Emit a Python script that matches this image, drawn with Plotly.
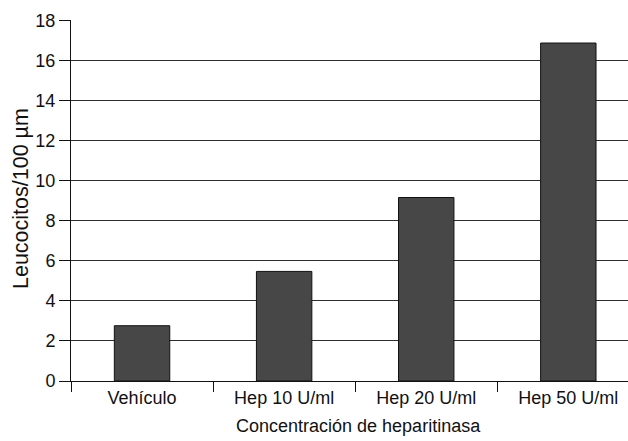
import plotly.graph_objects as go

categories = ["Vehículo", "Hep 10 U/ml", "Hep 20 U/ml", "Hep 50 U/ml"]
values = [2.76, 5.47, 9.16, 16.87]
y_ticks = [0, 2, 4, 6, 8, 10, 12, 14, 16, 18]

W, H = 628, 441
L, R, T, B = 71, 0, 20, 60

fig = go.Figure(go.Bar(
    x=categories, y=values, width=0.39,
    marker=dict(color="#474747", line=dict(color="#111111", width=1)),
))

font = "Liberation Sans, Arial, Helvetica, sans-serif"
fig.update_layout(
    width=W, height=H,
    margin=dict(l=L, r=R, t=T, b=B, autoexpand=False),
    paper_bgcolor="white", plot_bgcolor="white",
    font=dict(family=font, size=18, color="#111111"),
    showlegend=False,
    xaxis=dict(
        range=[-0.5, 3.42], tickson="boundaries", ticks="outside", ticklen=10,
        tickcolor="#111111", showline=True, linecolor="#111111", linewidth=1,
        showgrid=False, automargin=False, tickfont=dict(size=18),
    ),
    yaxis=dict(
        range=[0, 18.02], tickvals=y_ticks, ticks="outside", ticklen=11,
        tickcolor="#111111", showline=True, linecolor="#111111", linewidth=1,
        showgrid=True, gridcolor="#2e2e2e", gridwidth=1, zeroline=False,
        automargin=False, tickfont=dict(size=18),
    ),
    annotations=[
        dict(text="Concentración de heparitinasa", xref="paper", yref="paper",
             x=(358 - L) / (W - L - R), y=-(426 - (H - B)) / (H - T - B),
             showarrow=False, xanchor="center", yanchor="middle",
             font=dict(size=18)),
        dict(text="Leucocitos/100 µm", xref="paper", yref="paper",
             x=-(L - 21) / (W - L - R), y=((H - B) - 199) / (H - T - B),
             showarrow=False, xanchor="center", yanchor="middle",
             textangle=-90, font=dict(size=21.5)),
    ],
)

fig.write_html(
    "out.html",
    config={"displayModeBar": False},
    post_script="document.body.style.margin='0px';document.body.style.overflow='hidden';",
)
